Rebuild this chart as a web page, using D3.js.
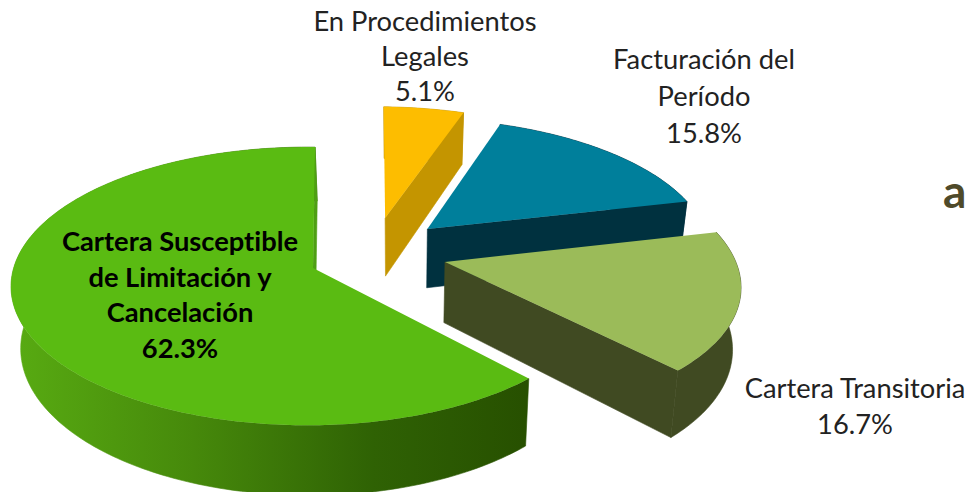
<!DOCTYPE html>
<html>
<head>
<meta charset="utf-8">
<script src="https://cdnjs.cloudflare.com/ajax/libs/d3/7.8.5/d3.min.js"></script>
<style>
  html, body { margin: 0; padding: 0; background: #fff; }
  svg { display: block; font-family: Lato, "Open Sans", sans-serif; font-variant-ligatures: none; }
</style>
</head>
<body>
<svg width="971" height="492"></svg>
<script>
const categories = ["Cartera Susceptible de Limitación y Cancelación", "En Procedimientos Legales", "Facturación del Período", "Cartera Transitoria"];
const shares = [62.3, 5.1, 15.8, 16.7];
const labelLines = [
  ["Cartera Susceptible", "de Limitación y", "Cancelación"],
  ["En Procedimientos", "Legales"],
  ["Facturación del", "Período"],
  ["Cartera Transitoria"]
];

const topColors = ["#5abb12", "#fdbd00", "#007f9b", "#9bbb59"];
const wallColors = ["url(#greenWall)", "#c49500", "#00313f", "#404a22"];

// where each slice got pulled to, in pie radius units (x right, y away from viewer)
const sliceOffsets = [[0, 0], [0.255, 0.38], [0.4, 0.293], [0.447, 0.044]];
// the rim of each slice is not quite a unit circle round its apex
const rimRadii = [0.99, 1, 0.97, 0.985];
const rimNudges = [[-0.018, 0], [0, 0], [0, 0], [0, 0]];
// label anchor per slice: centre x, first baseline, line step
const labelSpots = [[180, 251, 35.7], [425, 31, 35], [704, 69, 37], [855, 398, 36]];

const svg = d3.select("svg");
const deg = Math.PI / 180;

// perspective: far side of the pie shrinks, near side grows
const R = 297, tilt = 0.465, persp = 0.132, depth = 61;
const ox = 313, oy = 268, vanishX = 400, bottomShrink = 0.975;

function project(x, y, down) {
  const s = 1 + persp * y;
  let sx = ox + R * x / s;
  let sy = oy - R * tilt * y / s;
  if (down) {
    sy += depth / s;
    sx = vanishX + (sx - vanishX) * bottomShrink;
  }
  return [sx, sy];
}

const pie = d3.pie().sort(null).value(d => d)
  .startAngle(137 * deg).endAngle(497 * deg);
const arcs = pie(shares);
const line = d3.line();

function rimPoint(i, a, down) {
  const off = sliceOffsets[i], nudge = rimNudges[i], r = rimRadii[i];
  return project(off[0] + nudge[0] + r * Math.sin(a), off[1] + nudge[1] + r * Math.cos(a), down);
}

function rimPoints(i, a0, a1, down) {
  const n = Math.max(2, Math.ceil((a1 - a0) / (1 * deg)));
  return d3.range(n + 1).map(k => rimPoint(i, a0 + (a1 - a0) * k / n, down));
}

const defs = svg.append("defs");
const grad = defs.append("linearGradient").attr("id", "greenWall")
  .attr("gradientUnits", "userSpaceOnUse")
  .attr("x1", 13).attr("x2", 527).attr("y1", 0).attr("y2", 0);
grad.append("stop").attr("offset", "0").attr("stop-color", "#58ab12");
grad.append("stop").attr("offset", "0.35").attr("stop-color", "#46890b");
grad.append("stop").attr("offset", "0.7").attr("stop-color", "#2f6204");
grad.append("stop").attr("offset", "1").attr("stop-color", "#275000");

// far slices first so the near ones sit on top
const drawOrder = [1, 2, 3, 0];
drawOrder.forEach(i => {
  const d = arcs[i], off = sliceOffsets[i];
  const g = svg.append("g").attr("class", "slice");
  const apexTop = project(off[0], off[1], false);
  const apexBot = project(off[0], off[1], true);

  // outer curved wall
  const top = rimPoints(i, d.startAngle, d.endAngle, false);
  const bot = rimPoints(i, d.startAngle, d.endAngle, true).reverse();
  g.append("path").attr("d", line(top.concat(bot)) + "Z").attr("fill", wallColors[i])
    .attr("stroke", wallColors[i]).attr("stroke-width", 0.6);

  // radial wall on the clockwise end, the only one the camera can see
  const a = d.endAngle;
  const wall = i === 0 ? "#4f9f14" : wallColors[i];
  g.append("path").attr("d", line([apexTop, rimPoint(i, a, false), rimPoint(i, a, true), apexBot]) + "Z")
    .attr("fill", wall).attr("stroke", wall).attr("stroke-width", 0.6);

  // top face
  g.append("path").attr("d", line([apexTop].concat(top)) + "Z").attr("fill", topColors[i]);
});

// labels
labelLines.forEach((lines, i) => {
  const spot = labelSpots[i];
  const bold = i === 0;
  const t = svg.append("text")
    .attr("text-anchor", "middle")
    .attr("font-size", 27.3)
    .attr("font-weight", bold ? 700 : 400)
    .attr("fill", bold ? "#000" : "#222");
  lines.concat(shares[i].toFixed(1) + "%").forEach((s, k) => {
    t.append("tspan").attr("x", spot[0]).attr("y", spot[1] + k * spot[2]).text(s);
  });
});

// stray letter at the right edge of the source slide
svg.append("text").attr("x", 943).attr("y", 208)
  .attr("font-size", 46).attr("font-weight", 700).attr("fill", "#4f4a2a").text("a");
</script>
</body>
</html>
